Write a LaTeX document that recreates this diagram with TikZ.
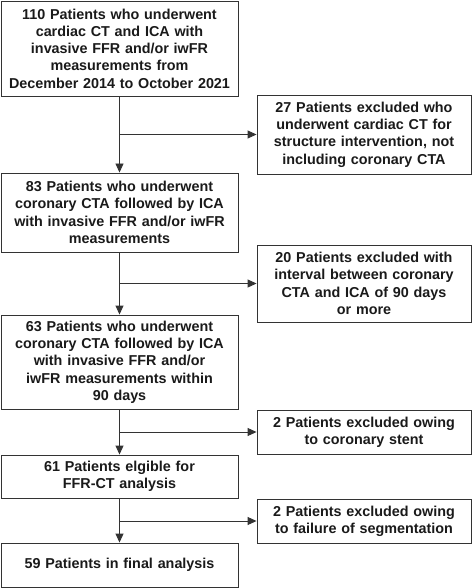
\documentclass[tikz,border=0pt]{standalone}
\usepackage{fontspec}
\setmainfont{Liberation Sans}
\usetikzlibrary{arrows.meta}
\definecolor{ln}{HTML}{333333}
\definecolor{tx}{HTML}{1A1A1A}
\begin{document}
\begin{tikzpicture}[x=1pt,y=-1pt,
  box/.style={draw=ln, line width=0.9pt, fill=white, text=tx, align=center,
    inner sep=0pt, font=\bfseries\fontsize{14.35}{17.3}\selectfont},
  lbox/.style={box, minimum width=237pt, text width=232pt},
  rbox/.style={box, minimum width=214pt, text width=210pt},
  arr/.style={draw=ln, line width=0.9pt, -{Triangle[width=8pt,length=9pt]}},
  ln/.style={draw=ln, line width=0.9pt}]
\useasboundingbox (0,0) rectangle (474,588);
\node[lbox, minimum height=95pt] (b1) at (119.5,48.5)
  {110 Patients who underwent\\cardiac CT and ICA with\\invasive FFR and/or iwFR\\measurements from\\December 2014 to October 2021};
\node[lbox, minimum height=79pt] (b2) at (119.5,212.5)
  {83 Patients who underwent\\coronary CTA followed by ICA\\with invasive FFR and/or iwFR\\measurements};
\node[lbox, minimum height=94pt] (b3) at (119.5,362)
  {63 Patients who underwent\\coronary CTA followed by ICA\\with invasive FFR and/or\\iwFR measurements within\\90 days};
\node[lbox, minimum height=43pt] (b4) at (119.5,476.5)
  {61 Patients elgible for\\FFR-CT analysis};
\node[lbox, minimum height=44pt] (b5) at (119.5,565)
  {59 Patients in final analysis};
\node[rbox, minimum height=79pt] (r1) at (364,134.5)
  {27 Patients excluded who\\underwent cardiac CT for\\structure intervention, not\\including coronary CTA};
\node[rbox, minimum height=77pt] (r2) at (364,283.5)
  {20 Patients excluded with\\interval between coronary\\CTA and ICA of 90 days\\or more};
\node[rbox, minimum height=44pt] (r3) at (364,432)
  {2 Patients excluded owing\\to coronary stent};
\node[rbox, minimum height=44pt] (r4) at (364,521)
  {2 Patients excluded owing\\to failure of segmentation};
\draw[arr] (b1) -- (b2);
\draw[arr] (b2) -- (b3);
\draw[arr] (b3) -- (b4);
\draw[arr] (b4) -- (b5);
\draw[arr] (b1.south |- r1.west) -- (r1.west);
\draw[arr] (b2.south |- r2.west) -- (r2.west);
\draw[arr] (b3.south |- r3.west) -- (r3.west);
\draw[arr] (b4.south |- r4.west) -- (r4.west);
\end{tikzpicture}
\end{document}
